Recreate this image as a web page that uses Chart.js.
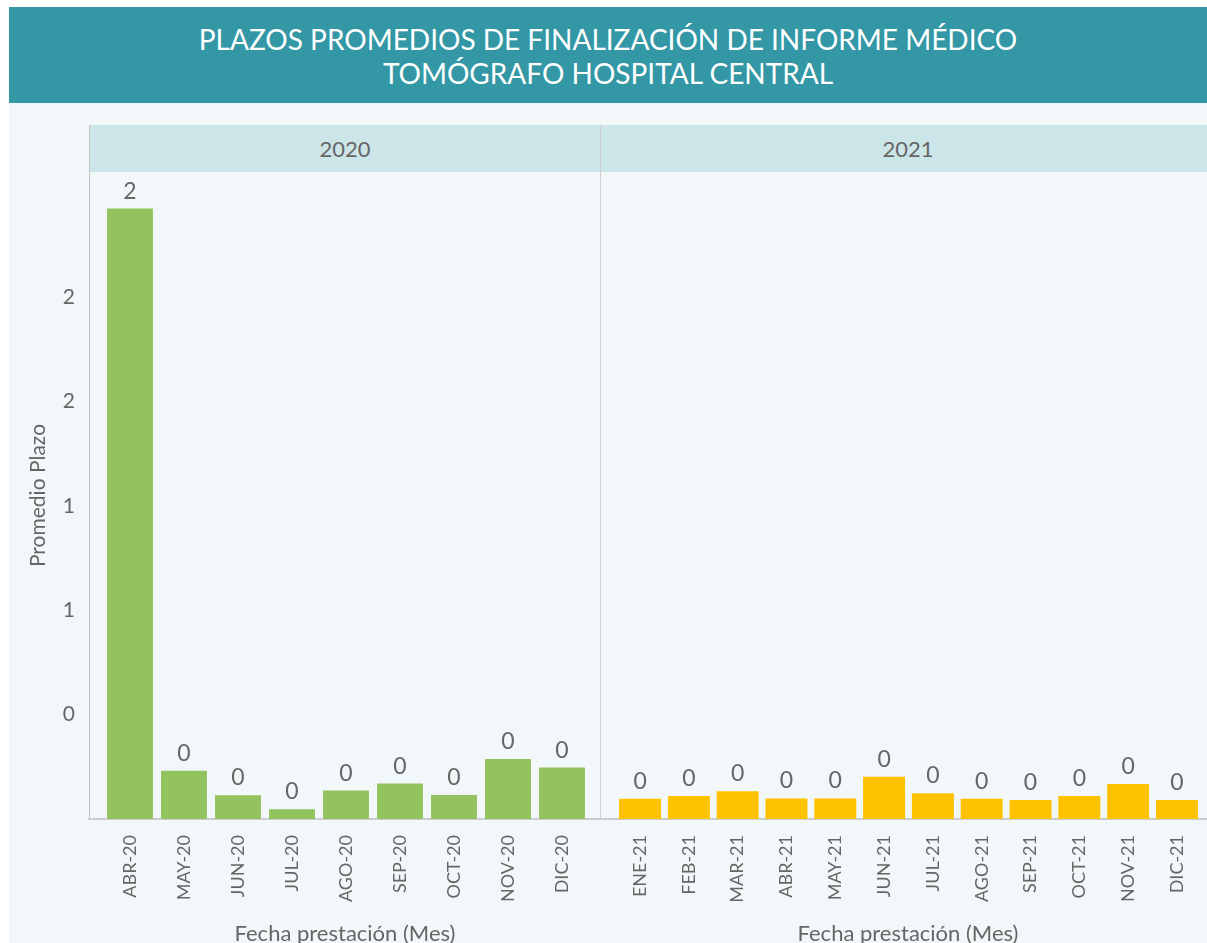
<!DOCTYPE html>
<html>
<head>
<meta charset="utf-8">
<script src="https://cdn.jsdelivr.net/npm/chart.js@4.4.0/dist/chart.umd.min.js"></script>
<style>
  html, body { margin: 0; padding: 0; background: #fff; width: 1207px; height: 943px; overflow: hidden; font-family: Lato, sans-serif; }
  #frame { position: absolute; left: 9px; top: 7px; width: 1198px; height: 936px; background: #F2F8F9; }
  #title { position: absolute; left: 9px; top: 7px; width: 1198px; height: 81px; padding-top: 15px; background: #3397A5; color: #fff; text-align: center; font-size: 28px; line-height: 34px; }
  #strip { position: absolute; left: 89px; top: 125px; width: 1118px; height: 47px; background: #CCE5E9; border-left: 1px solid #C4C4C4; }
  .year { position: absolute; top: 125px; height: 47px; line-height: 47px; text-align: center; font-size: 22px; color: #666; }
  #divider { position: absolute; left: 600px; top: 125px; width: 1px; height: 694px; background: #D0D0D0; }
  canvas { position: absolute; top: 125px; }
</style>
</head>
<body>
<div id="frame"></div>
<div id="title">PLAZOS PROMEDIOS DE FINALIZACIÓN DE INFORME MÉDICO<br>TOMÓGRAFO HOSPITAL CENTRAL</div>
<div id="strip"></div>
<div class="year" style="left:89px;width:512px;">2020</div>
<div class="year" style="left:601px;width:614px;">2021</div>
<div id="divider"></div>
<canvas id="c2020" width="601" height="820" style="left:0px;"></canvas>
<canvas id="c2021" width="614" height="820" style="left:601px;"></canvas>
<script>
// meses y promedios
var meses2020 = ['ABR-20', 'MAY-20', 'JUN-20', 'JUL-20', 'AGO-20', 'SEP-20', 'OCT-20', 'NOV-20', 'DIC-20'];
var plazo2020 = [2.34, 0.185, 0.091, 0.037, 0.109, 0.136, 0.092, 0.23, 0.197];

var meses2021 = ['ENE-21', 'FEB-21', 'MAR-21', 'ABR-21', 'MAY-21', 'JUN-21', 'JUL-21', 'AGO-21', 'SEP-21', 'OCT-21', 'NOV-21', 'DIC-21'];
var plazo2021 = [0.078, 0.088, 0.106, 0.079, 0.079, 0.162, 0.099, 0.078, 0.073, 0.088, 0.134, 0.073];

var yTickValues = [0.4, 0.8, 1.2, 1.6, 2.0];
var yTickLabels = ['0', '1', '1', '2', '2'];

var gray = '#666666';

// numero sobre cada barra
var valueLabels = {
  id: 'valueLabels',
  afterDatasetsDraw: function(chart) {
    var ctx = chart.ctx;
    var meta = chart.getDatasetMeta(0);
    var vals = chart.data.datasets[0].data;
    ctx.save();
    ctx.font = '23px Lato';
    ctx.fillStyle = gray;
    ctx.textAlign = 'center';
    ctx.textBaseline = 'alphabetic';
    meta.data.forEach(function(bar, i) {
      ctx.fillText(String(Math.round(vals[i].y)), bar.x, bar.y - 10);
    });
    ctx.restore();
  }
};

function makeChart(id, labels, values, color, xMin, xMax, barPct, showY) {
  var ctx = document.getElementById(id).getContext('2d');
  return new Chart(ctx, {
    type: 'bar',
    data: {
      datasets: [{
        data: values.map(function(v, i) { return { x: i, y: v }; }),
        backgroundColor: color,
        borderWidth: 0,
        categoryPercentage: 1,
        barPercentage: barPct
      }]
    },
    options: {
      responsive: false,
      animation: false,
      layout: { padding: { top: 47, left: 0, right: 0, bottom: 0 } },
      plugins: { legend: { display: false }, tooltip: { enabled: false } },
      scales: {
        x: {
          type: 'linear',
          offset: false,
          min: xMin,
          max: xMax,
          grid: { display: false, drawTicks: false, offset: false },
          border: { display: true, color: '#CCCCCC', width: 2 },
          afterBuildTicks: function(scale) {
            scale.ticks = labels.map(function(l, i) { return { value: i }; });
          },
          afterFit: function(scale) { scale.height = 126; },
          ticks: {
            autoSkip: false,
            minRotation: 90,
            maxRotation: 90,
            padding: 16,
            color: gray,
            font: { family: 'Lato', size: 18 },
            callback: function(value) { return labels[value]; }
          },
          title: {
            display: true,
            text: 'Fecha prestación (Mes)',
            color: gray,
            font: { family: 'Lato', size: 22, lineHeight: 1 },
            padding: { top: 0, bottom: 0 }
          }
        },
        y: {
          display: showY,
          min: 0,
          max: 2.48,
          grid: { display: false, drawTicks: false },
          border: { display: true, color: '#C4C4C4', width: 1 },
          afterBuildTicks: function(scale) {
            scale.ticks = yTickValues.map(function(v) { return { value: v }; });
          },
          afterFit: function(scale) { scale.width = showY ? 89 : 0; },
          ticks: {
            padding: 14,
            color: gray,
            font: { family: 'Lato', size: 21 },
            callback: function(value, index) { return yTickLabels[index]; }
          },
          title: {
            display: true,
            text: 'Promedio Plazo',
            color: gray,
            font: { family: 'Lato', size: 21, lineHeight: 1 },
            padding: { top: 28, bottom: 0 }
          }
        }
      }
    },
    plugins: [valueLabels]
  });
}

makeChart('c2020', meses2020, plazo2020, '#93C35F', -0.759, 8.722, 0.85, true);
makeChart('c2021', meses2021, plazo2021, '#FFC200', -0.8, 11.78, 0.86, false);
</script>
</body>
</html>
